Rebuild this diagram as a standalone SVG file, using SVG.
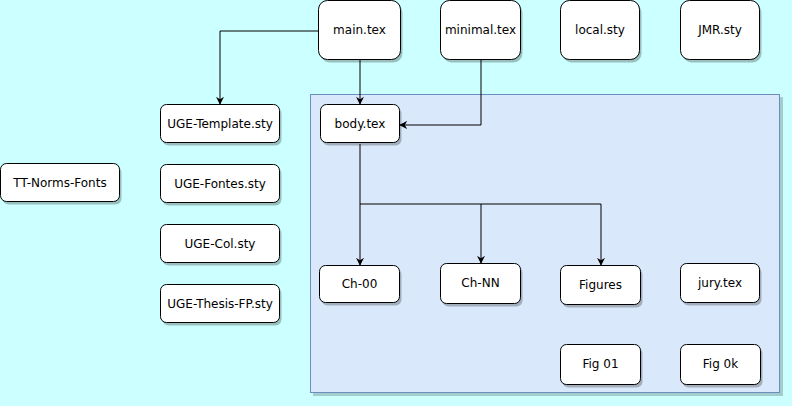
<svg xmlns="http://www.w3.org/2000/svg" width="792" height="406" viewBox="0 0 792 406">
<defs>
<style>
.n rect.b{fill:#fff;stroke:#000;stroke-width:1}
.n rect.s{fill:#000;opacity:0.25}
.n text{font-family:"DejaVu Sans",sans-serif;font-size:12px;fill:#000;text-anchor:middle;dominant-baseline:central}
.c{fill:none;stroke:#000;stroke-width:1}
</style>
<marker id="ah" viewBox="0 0 10 10" refX="9" refY="5" markerWidth="8" markerHeight="8" orient="auto" markerUnits="userSpaceOnUse"><path d="M0,0 L10,5 L0,10 L3,5 Z" fill="#000"/></marker>
</defs>
<rect x="0" y="0" width="792" height="406" fill="#ccffff"/>
<g id="container">
<rect x="313" y="97" width="470" height="299" fill="#000" opacity="0.2"/>
<rect x="310.5" y="94.5" width="469" height="298" fill="#dae8fc" stroke="#6c8ebf"/>
</g>
<g id="connectors">
<path class="c" d="M318,31 H220 V104" marker-end="url(#ah)"/>
<path class="c" d="M360,60 V104" marker-end="url(#ah)"/>
<path class="c" d="M481,60 V125 H400" marker-end="url(#ah)"/>
<path class="c" d="M360,144 V265" marker-end="url(#ah)"/>
<path class="c" d="M360,204 H481 V263" marker-end="url(#ah)"/>
<path class="c" d="M481,204 H601 V265" marker-end="url(#ah)"/>
</g>
<g id="main" class="n"><rect class="s" x="320.5" y="3.5" width="82" height="59" rx="9"/><rect class="b" x="318.5" y="0.5" width="82" height="59" rx="9"/><text x="359.5" y="30">main.tex</text></g>
<g id="minimal" class="n"><rect class="s" x="442.5" y="3.5" width="80" height="59" rx="9"/><rect class="b" x="440.5" y="0.5" width="80" height="59" rx="9"/><text x="480.5" y="30">minimal.tex</text></g>
<g id="local" class="n"><rect class="s" x="562.5" y="3.5" width="79" height="59" rx="9"/><rect class="b" x="560.5" y="0.5" width="79" height="59" rx="9"/><text x="600" y="30">local.sty</text></g>
<g id="jmr" class="n"><rect class="s" x="682.5" y="3.5" width="79" height="59" rx="9"/><rect class="b" x="680.5" y="0.5" width="79" height="59" rx="9"/><text x="720" y="30">JMR.sty</text></g>
<g id="body" class="n"><rect class="s" x="322.5" y="107.5" width="79" height="38" rx="6"/><rect class="b" x="320.5" y="104.5" width="79" height="38" rx="6"/><text x="360" y="124">body.tex</text></g>
<g id="template" class="n"><rect class="s" x="162.5" y="107.5" width="119" height="38" rx="6"/><rect class="b" x="160.5" y="104.5" width="119" height="38" rx="6"/><text x="220" y="124">UGE-Template.sty</text></g>
<g id="fontes" class="n"><rect class="s" x="162.5" y="167.5" width="119" height="38" rx="6"/><rect class="b" x="160.5" y="164.5" width="119" height="38" rx="6"/><text x="220" y="184">UGE-Fontes.sty</text></g>
<g id="col" class="n"><rect class="s" x="162.5" y="227.5" width="119" height="38" rx="6"/><rect class="b" x="160.5" y="224.5" width="119" height="38" rx="6"/><text x="220" y="244">UGE-Col.sty</text></g>
<g id="thesis" class="n"><rect class="s" x="162.5" y="287.5" width="119" height="38" rx="6"/><rect class="b" x="160.5" y="284.5" width="119" height="38" rx="6"/><text x="220" y="304">UGE-Thesis-FP.sty</text></g>
<g id="ttnorms" class="n"><rect class="s" x="2.5" y="166.5" width="119" height="38" rx="6"/><rect class="b" x="0.5" y="163.5" width="119" height="38" rx="6"/><text x="60" y="183">TT-Norms-Fonts</text></g>
<g id="ch00" class="n"><rect class="s" x="321.5" y="268.5" width="80" height="37" rx="6"/><rect class="b" x="319.5" y="265.5" width="80" height="37" rx="6"/><text x="359.5" y="284">Ch-00</text></g>
<g id="chnn" class="n"><rect class="s" x="442.5" y="266.5" width="80" height="40" rx="6"/><rect class="b" x="440.5" y="263.5" width="80" height="40" rx="6"/><text x="480.5" y="283">Ch-NN</text></g>
<g id="figures" class="n"><rect class="s" x="562.5" y="268.5" width="80" height="39" rx="6"/><rect class="b" x="560.5" y="265.5" width="80" height="39" rx="6"/><text x="600.5" y="285">Figures</text></g>
<g id="jury" class="n"><rect class="s" x="682.5" y="266.5" width="79" height="39" rx="6"/><rect class="b" x="680.5" y="263.5" width="79" height="39" rx="6"/><text x="720" y="283">jury.tex</text></g>
<g id="fig01" class="n"><rect class="s" x="562.5" y="347.5" width="80" height="40" rx="6"/><rect class="b" x="560.5" y="344.5" width="80" height="40" rx="6"/><text x="600.5" y="364">Fig 01</text></g>
<g id="fig0k" class="n"><rect class="s" x="682.5" y="347.5" width="80" height="40" rx="6"/><rect class="b" x="680.5" y="344.5" width="80" height="40" rx="6"/><text x="720.5" y="364">Fig 0k</text></g>
</svg>
